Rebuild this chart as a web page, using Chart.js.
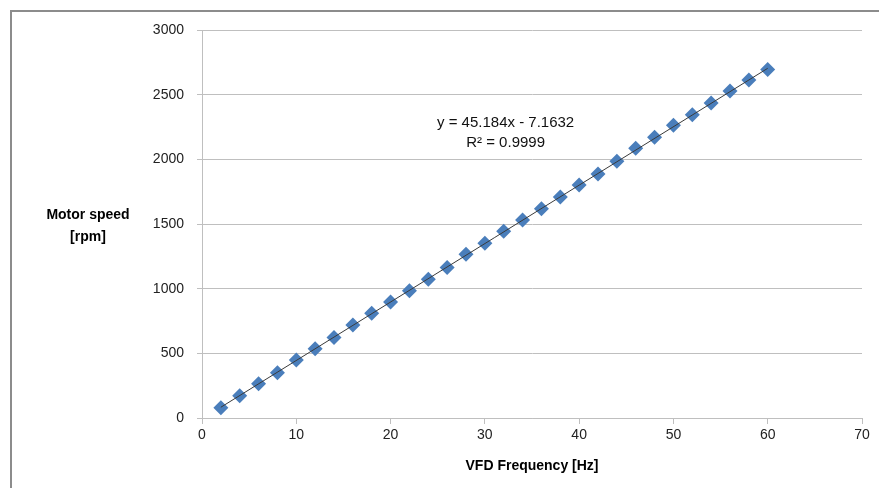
<!DOCTYPE html>
<html>
<head>
<meta charset="utf-8">
<script src="https://cdn.jsdelivr.net/npm/chart.js@4"></script>
<style>
  html, body { margin: 0; padding: 0; background: #fff; overflow: hidden; }
  #wrap { position: relative; width: 879px; height: 488px; }
  #frame { position: absolute; left: 10px; top: 10px; width: 1000px; height: 1000px;
           border: 2px solid #8c8c8c; box-sizing: border-box; }
  canvas { position: absolute; left: 0; top: 0; }
</style>
</head>
<body>
<div id="wrap">
  <div id="frame"></div>
  <canvas id="speedChart" width="879" height="488"></canvas>
</div>
<script>
// VFD frequency [Hz] and measured motor speed [rpm]
const frequency = [2, 4, 6, 8, 10, 12, 14, 16, 18, 20, 22, 24, 26, 28, 30,
                   32, 34, 36, 38, 40, 42, 44, 46, 48, 50, 52, 54, 56, 58, 60];
const motorSpeed = [80, 172, 264, 350, 449, 536, 622, 719, 810, 897, 984, 1072, 1163, 1266, 1352,
                    1444, 1530, 1618, 1709, 1802, 1887, 1986, 2085, 2170, 2264, 2345, 2436, 2528, 2614, 2695];

// Linear trendline shown on the chart
const slope = 45.184;
const intercept = -7.1632;
const trendX = [2, 60];
const equationText = 'y = 45.184x - 7.1632';
const r2Text = 'R\u00b2 = 0.9999';

const xTicks = [0, 10, 20, 30, 40, 50, 60, 70];
const yTicks = [0, 500, 1000, 1500, 2000, 2500, 3000];

const FONT = "'Liberation Sans', Arial, sans-serif";

const points = frequency.map((f, i) => ({ x: f, y: motorSpeed[i] }));
const trend = trendX.map(x => ({ x: x, y: slope * x + intercept }));

// horizontal y-axis title and the trendline label
const textPlugin = {
  id: 'texts',
  afterDraw(chart) {
    const c = chart.ctx;
    const xs = chart.scales.x, ys = chart.scales.y;
    c.save();
    c.fillStyle = '#000';
    c.textAlign = 'center';
    c.textBaseline = 'middle';
    c.font = 'bold 14px ' + FONT;
    c.fillText('Motor speed', 88, 215);
    c.fillText('[rpm]', 88, 237);
    c.font = '15px ' + FONT;
    c.fillStyle = '#111';
    const tx = xs.getPixelForValue(32.2);
    c.fillText(equationText, tx, ys.getPixelForValue(2285));
    c.fillText(r2Text, tx, ys.getPixelForValue(2130));
    c.restore();
  }
};

new Chart(document.getElementById('speedChart'), {
  type: 'scatter',
  data: {
    datasets: [
      {
        label: 'Trendline',
        data: trend,
        showLine: true,
        borderColor: '#3a3a3a',
        borderWidth: 1,
        pointRadius: 0,
        order: 0
      },
      {
        label: 'Motor speed',
        data: points,
        pointStyle: 'rectRot',
        pointRadius: 7.5,
        pointBackgroundColor: '#4a7ebb',
        pointBorderColor: '#4a7ebb',
        pointBorderWidth: 0,
        order: 1
      }
    ]
  },
  options: {
    responsive: false,
    animation: false,
    layout: { padding: { left: 0, right: 17, top: 30, bottom: 0 } },
    plugins: {
      legend: { display: false },
      tooltip: { enabled: false }
    },
    scales: {
      x: {
        type: 'linear',
        min: 0,
        max: 70,
        afterBuildTicks: s => { s.ticks = xTicks.map(v => ({ value: v })); },
        afterFit: s => { s.height = 70; },
        grid: { drawOnChartArea: false, drawTicks: true, tickLength: 6, color: '#bfbfbf' },
        border: { display: true, color: '#bfbfbf', width: 1 },
        ticks: { color: '#222', font: { family: FONT, size: 14 }, padding: 3 },
        title: {
          display: true,
          text: 'VFD Frequency [Hz]',
          color: '#000',
          font: { family: FONT, size: 14, weight: 'bold' },
          padding: { top: 4, bottom: 13 }
        }
      },
      y: {
        type: 'linear',
        min: 0,
        max: 3000,
        afterBuildTicks: s => { s.ticks = yTicks.map(v => ({ value: v })); },
        afterFit: s => { s.width = 202; },
        grid: { drawTicks: true, tickLength: 5, color: '#bfbfbf' },
        border: { display: true, color: '#bfbfbf', width: 1 },
        ticks: { color: '#222', font: { family: FONT, size: 14 }, padding: 13, callback: v => String(v) }
      }
    }
  },
  plugins: [textPlugin]
});
</script>
</body>
</html>
